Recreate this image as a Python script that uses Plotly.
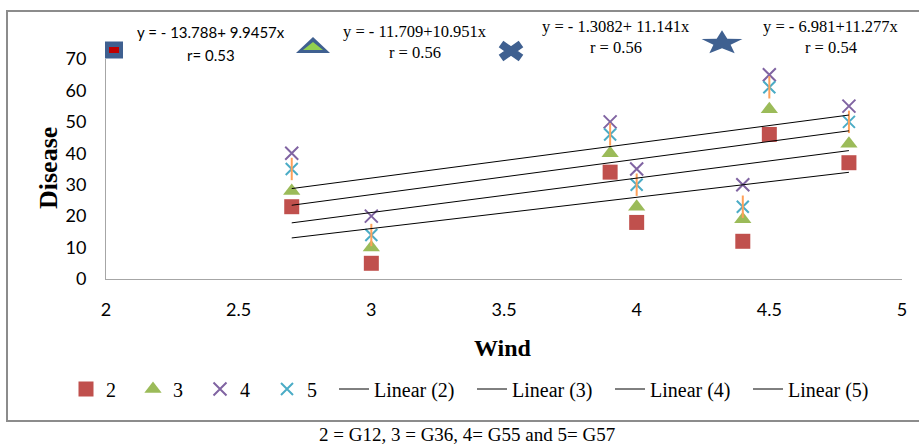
import numpy as np
import plotly.graph_objects as go

# Wind speed vs disease for four genotypes
wind = [2.7, 3.0, 3.9, 4.0, 4.4, 4.5, 4.8]
g12 = [23, 5, 34, 18, 12, 46, 37]
g36 = [28, 10, 40, 23, 19, 54, 43]
g55 = [40, 20, 50, 35, 30, 65, 55]
g57 = [35, 14, 46, 30, 23, 61, 50]

series_names = ["2", "3", "4", "5"]
series_values = [g12, g36, g55, g57]
series_colors = ["#C0504D", "#9BBB59", "#8064A2", "#4BACC6"]

equations = ["y = - 13.788+ 9.9457x", "y = - 11.709+10.951x",
             "y = - 1.3082+ 11.141x", "y = - 6.981+11.277x"]
r_labels = ["r= 0.53", "r = 0.56", "r = 0.56", "r = 0.54"]
caption = "2 = G12, 3 = G36, 4= G55 and 5= G57"

x_ticks = [2, 2.5, 3, 3.5, 4, 4.5, 5]
y_ticks = [0, 10, 20, 30, 40, 50, 60, 70]

SERIF = "Liberation Serif, Times New Roman, serif"
SANS = "Lato, Carlito, Calibri, sans-serif"
NARROW = "Liberation Sans Narrow, Arial Narrow, Lato, sans-serif"
ICON_BLUE = "#3F6090"

fig = go.Figure()

# scatter markers
marker_styles = [
    dict(symbol="square", size=15, color=series_colors[0]),
    dict(symbol="triangle-up", size=15, color=series_colors[1]),
    dict(symbol="x-thin-open", size=13, color=series_colors[2],
         line=dict(width=2, color=series_colors[2])),
    dict(symbol="x-thin-open", size=12, color=series_colors[3],
         line=dict(width=2, color=series_colors[3])),
]
for name, vals, mk in zip(series_names, series_values, marker_styles):
    fig.add_trace(go.Scatter(x=wind, y=vals, mode="markers", name=name,
                             marker=mk, legendwidth=22))
# vertical stroke completing the asterisk marker of series 5
fig.add_trace(go.Scatter(x=wind, y=g57, mode="markers", showlegend=False,
                         marker=dict(symbol="line-ns-open", size=16,
                                     line=dict(width=2, color=series_colors[3]))))

# least-squares trend lines
x_fit = np.array([min(wind), max(wind)])
for name, vals in zip(series_names, series_values):
    slope, intercept = np.polyfit(wind, vals, 1)
    fig.add_trace(go.Scatter(x=x_fit, y=intercept + slope * x_fit, mode="lines",
                             name=f"Linear ({name})",
                             line=dict(color="black", width=1), legendwidth=93))

# plot area geometry (pixels) for placing decorations
L, R, T, B = 106, 17, 59, 165
W, H = 919, 444
pw, ph = W - L - R, H - T - B


def px(x):
    return (x - L) / pw


def py(y):
    return (H - B - y) / ph


shapes = []
# outer frame
shapes.append(dict(type="rect", xref="paper", yref="paper",
                   x0=px(7), x1=px(922), y0=py(421), y1=py(11),
                   line=dict(color="#8C8C8C", width=2), fillcolor="rgba(0,0,0,0)",
                   layer="below"))


def icon(path, cx, cy, fill, line_color=None, line_width=0):
    return dict(type="path", xref="paper", yref="paper",
                xsizemode="pixel", ysizemode="pixel",
                xanchor=px(cx), yanchor=py(cy), path=path,
                fillcolor=fill,
                line=dict(color=line_color or fill, width=line_width))


# icon 1: blue tile with red bar
shapes.append(icon("M-9,-8.5 L9,-8.5 L9,8.5 L-9,8.5 Z", 114, 50, ICON_BLUE))
shapes.append(icon("M-5,-3 L5,-3 L5,3 L-5,3 Z", 114, 50, "#C00000"))
# icon 2: outlined triangle
shapes.append(icon("M-17,-8 L17,-8 L0,8 Z", 313, 45, ICON_BLUE))
shapes.append(icon("M-10,-5 L10,-5 L0,3 Z", 313, 45, "#92D050"))
# icon 3: heavy cross
shapes.append(dict(type="path", xref="paper", yref="paper",
                   xsizemode="pixel", ysizemode="pixel",
                   xanchor=px(511), yanchor=py(51),
                   path="M-10,-7 L10,7 M-10,7 L10,-7",
                   line=dict(color=ICON_BLUE, width=8)))
# icon 4: flattened star
ang = np.pi / 2 + np.arange(10) * np.pi / 5
rad = np.where(np.arange(10) % 2 == 0, 1.0, 0.42)
sx, sy = 21.5 * rad * np.cos(ang), 12.7 * rad * np.sin(ang)
star_path = "M" + " L".join(f"{a:.2f},{b:.2f}" for a, b in zip(sx, sy)) + " Z"
shapes.append(icon(star_path, 722, 43, ICON_BLUE))


def label(text, cx, cy, fam, fs, angle=0):
    return dict(text=text, x=px(cx), y=py(cy), xref="paper", yref="paper",
                xanchor="center", yanchor="middle", showarrow=False,
                textangle=angle, font=dict(family=fam, size=fs, color="black"))


annotations = []
eq_pos = [(211, 32, 55, NARROW, 15), (415, 31, 52, SERIF, 16.5),
          (616, 27, 48, SERIF, 16.5), (831, 27, 48, SERIF, 16.5)]
for eq, rl, (cx, y1, y2, fam, fs) in zip(equations, r_labels, eq_pos):
    annotations.append(label(eq, cx, y1, fam, fs))
    annotations.append(label(rl, cx, y2, fam, fs))

annotations.append(label("<b>Disease</b>", 48, 168, SERIF, 26, angle=-90))
annotations.append(label("<b>Wind</b>", 503, 348, SERIF, 24))
annotations.append(label(caption, 467, 434, SERIF, 19))

fig.update_layout(
    width=W, height=H,
    margin=dict(l=L, r=R, t=T, b=B, pad=0),
    paper_bgcolor="white", plot_bgcolor="white",
    shapes=shapes, annotations=annotations,
    showlegend=True,
    legend=dict(orientation="h", x=px(66), xanchor="left", y=py(389), yanchor="middle",
                font=dict(family=SERIF, size=20, color="black"),
                bgcolor="rgba(0,0,0,0)", borderwidth=0),
    xaxis=dict(range=[2, 5], tickvals=x_ticks, showgrid=False, zeroline=False,
               showline=True, linecolor="#A6A6A6", linewidth=1, ticks="",
               ticklabelstandoff=14,
               tickfont=dict(family=SANS, size=18, color="black")),
    yaxis=dict(range=[0, 70], tickvals=y_ticks, showgrid=False, zeroline=False,
               showline=True, linecolor="#A6A6A6", linewidth=1,
               ticks="outside", ticklen=15, tickcolor="rgba(0,0,0,0)",
               tickfont=dict(family=SANS, size=18, color="black")),
)

fig.write_html("out.html")
